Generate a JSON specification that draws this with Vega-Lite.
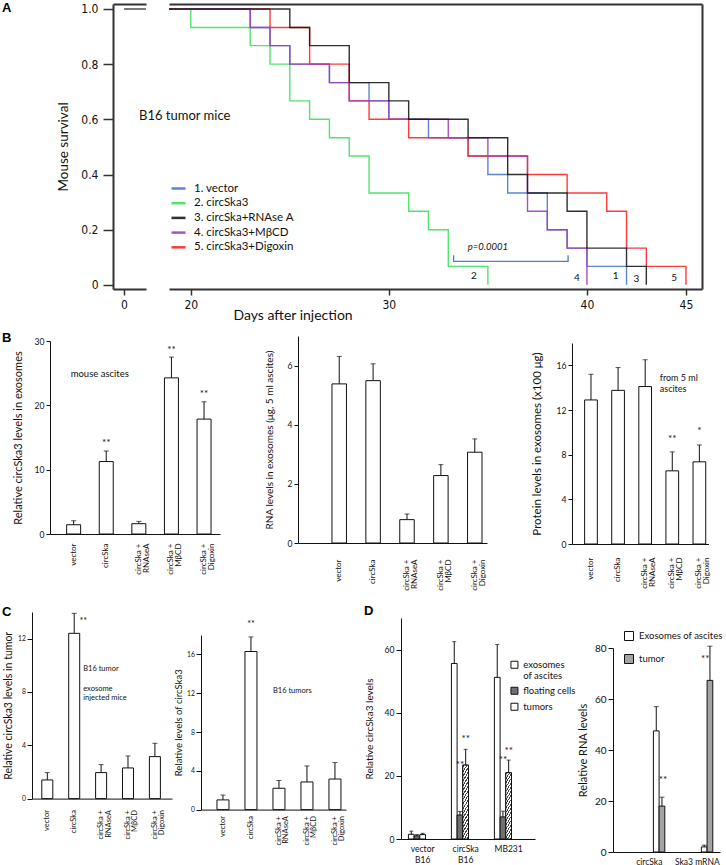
{
"$schema": "https://vega.github.io/schema/vega-lite/v6.json",
"padding": {"left": 0, "top": 1, "right": 0, "bottom": 0},
"config": {
  "view": {"stroke": null},
  "font": "Lato",
  "axis": {"grid": false, "labelFont": "Lato", "titleFont": "Lato", "titleFontWeight": "normal", "labelColor": "#111", "titleColor": "#111", "domainColor": "#111", "tickColor": "#111", "labelFlush": false, "labelOverlap": false},
  "text": {"font": "Lato", "color": "#111"},
  "title": {"font": "Liberation Sans", "fontWeight": "bold", "fontSize": 13, "color": "#000", "anchor": "start", "frame": "group", "baseline": "bottom"},
  "legend": {"labelFont": "Lato", "padding": 0, "labelColor": "#111"}
},
"datasets": {
  "surv": [
    {"grp": "2. circSka3", "day": 0, "s": 1}, {"grp": "2. circSka3", "day": 20, "s": 0.933}, {"grp": "2. circSka3", "day": 23, "s": 0.867}, {"grp": "2. circSka3", "day": 24, "s": 0.8}, {"grp": "2. circSka3", "day": 25, "s": 0.667}, {"grp": "2. circSka3", "day": 26, "s": 0.6}, {"grp": "2. circSka3", "day": 27, "s": 0.533}, {"grp": "2. circSka3", "day": 28, "s": 0.467}, {"grp": "2. circSka3", "day": 29, "s": 0.333}, {"grp": "2. circSka3", "day": 31, "s": 0.267}, {"grp": "2. circSka3", "day": 32, "s": 0.2}, {"grp": "2. circSka3", "day": 33, "s": 0.067}, {"grp": "2. circSka3", "day": 35, "s": 0},
    {"grp": "1. vector", "day": 0, "s": 1}, {"grp": "1. vector", "day": 23, "s": 0.933}, {"grp": "1. vector", "day": 24, "s": 0.867}, {"grp": "1. vector", "day": 25, "s": 0.8}, {"grp": "1. vector", "day": 27, "s": 0.733}, {"grp": "1. vector", "day": 29, "s": 0.667}, {"grp": "1. vector", "day": 30, "s": 0.6}, {"grp": "1. vector", "day": 32, "s": 0.533}, {"grp": "1. vector", "day": 34, "s": 0.467}, {"grp": "1. vector", "day": 35, "s": 0.4}, {"grp": "1. vector", "day": 36, "s": 0.333}, {"grp": "1. vector", "day": 38, "s": 0.2}, {"grp": "1. vector", "day": 39, "s": 0.133}, {"grp": "1. vector", "day": 40, "s": 0.067}, {"grp": "1. vector", "day": 42, "s": 0},
    {"grp": "5. circSka3+Digoxin", "day": 0, "s": 1}, {"grp": "5. circSka3+Digoxin", "day": 24, "s": 0.933}, {"grp": "5. circSka3+Digoxin", "day": 26, "s": 0.8}, {"grp": "5. circSka3+Digoxin", "day": 28, "s": 0.667}, {"grp": "5. circSka3+Digoxin", "day": 29, "s": 0.6}, {"grp": "5. circSka3+Digoxin", "day": 31, "s": 0.533}, {"grp": "5. circSka3+Digoxin", "day": 34, "s": 0.467}, {"grp": "5. circSka3+Digoxin", "day": 37, "s": 0.4}, {"grp": "5. circSka3+Digoxin", "day": 39, "s": 0.333}, {"grp": "5. circSka3+Digoxin", "day": 41, "s": 0.267}, {"grp": "5. circSka3+Digoxin", "day": 42, "s": 0.133}, {"grp": "5. circSka3+Digoxin", "day": 43, "s": 0.067}, {"grp": "5. circSka3+Digoxin", "day": 45, "s": 0},
    {"grp": "4. circSka3+MβCD", "day": 0, "s": 1}, {"grp": "4. circSka3+MβCD", "day": 23, "s": 0.933}, {"grp": "4. circSka3+MβCD", "day": 24, "s": 0.867}, {"grp": "4. circSka3+MβCD", "day": 25, "s": 0.8}, {"grp": "4. circSka3+MβCD", "day": 27, "s": 0.733}, {"grp": "4. circSka3+MβCD", "day": 28, "s": 0.667}, {"grp": "4. circSka3+MβCD", "day": 30, "s": 0.6}, {"grp": "4. circSka3+MβCD", "day": 33, "s": 0.533}, {"grp": "4. circSka3+MβCD", "day": 35, "s": 0.467}, {"grp": "4. circSka3+MβCD", "day": 37, "s": 0.267}, {"grp": "4. circSka3+MβCD", "day": 38, "s": 0.2}, {"grp": "4. circSka3+MβCD", "day": 39, "s": 0.133}, {"grp": "4. circSka3+MβCD", "day": 40, "s": 0},
    {"grp": "3. circSka+RNAse A", "day": 0, "s": 1}, {"grp": "3. circSka+RNAse A", "day": 25, "s": 0.933}, {"grp": "3. circSka+RNAse A", "day": 26, "s": 0.867}, {"grp": "3. circSka+RNAse A", "day": 28, "s": 0.733}, {"grp": "3. circSka+RNAse A", "day": 30, "s": 0.667}, {"grp": "3. circSka+RNAse A", "day": 31, "s": 0.6}, {"grp": "3. circSka+RNAse A", "day": 34, "s": 0.533}, {"grp": "3. circSka+RNAse A", "day": 36, "s": 0.4}, {"grp": "3. circSka+RNAse A", "day": 37, "s": 0.333}, {"grp": "3. circSka+RNAse A", "day": 39, "s": 0.267}, {"grp": "3. circSka+RNAse A", "day": 40, "s": 0.133}, {"grp": "3. circSka+RNAse A", "day": 42, "s": 0.067}, {"grp": "3. circSka+RNAse A", "day": 43, "s": 0}
  ]
},
"spacing": 0,
"resolve": {"scale": {"color": "independent", "fill": "independent"}, "legend": {"color": "independent", "fill": "independent"}},
"vconcat": [
  {
    "spacing": 1,
    "resolve": {"scale": {"color": "independent"}, "legend": {"color": "independent"}},
    "hconcat": [
      {"width": 1, "height": 1, "data": {"values": []}, "mark": "point"},
      {
        "bounds": "flush",
        "spacing": 23,
        "resolve": {"scale": {"color": "independent"}, "legend": {"color": "independent"}},
        "hconcat": [
          {
            "width": 33, "height": 285,
            "title": {"text": "A", "dx": -111, "offset": -12},
            "resolve": {"axis": {"x": "independent", "y": "independent"}},
            "layer": [
              {
                "data": {"name": "surv"},
                "mark": {"type": "line", "interpolate": "step-after", "clip": true, "color": "#7a7a7a", "strokeWidth": 1.4},
                "encoding": {
                  "x": {"field": "day", "type": "quantitative", "scale": {"domain": [-0.556, 1.111], "nice": false, "zero": false},
                        "axis": {"values": [0], "title": null, "tickSize": 6, "tickWidth": 1.5, "domainWidth": 2, "domainColor": "#333", "tickColor": "#333", "labelFont": "Liberation Sans Narrow, DejaVu Sans Condensed, sans-serif", "labelFontSize": 12, "labelPadding": 4}},
                  "y": {"field": "s", "type": "quantitative", "scale": {"domain": [-0.015, 1.018], "nice": false, "zero": false},
                        "axis": {"values": [0, 0.2, 0.4, 0.6, 0.8, 1], "labelExpr": "datum.value == 0 ? '0' : format(datum.value, '.1f')", "title": "Mouse survival", "titleFontSize": 13.5, "titlePadding": 10, "tickSize": 10, "tickWidth": 1.5, "domainWidth": 2, "domainColor": "#333", "tickColor": "#333", "labelFont": "Liberation Sans Narrow, DejaVu Sans Condensed, sans-serif", "labelFontSize": 12, "labelPadding": 5}},
                  "detail": {"field": "grp", "type": "nominal"}
                }
              },
              {
                "data": {"values": [{}]},
                "mark": {"type": "text", "text": "B16 tumor mice", "align": "left", "baseline": "middle", "fontSize": 13},
                "encoding": {
                  "x": {"datum": 0.758, "type": "quantitative", "axis": {"orient": "top", "labels": false, "ticks": false, "title": null, "domainWidth": 2, "domainColor": "#333"}},
                  "y": {"datum": 0.612, "type": "quantitative", "axis": null}
                }
              }
            ]
          },
          {
            "width": 533, "height": 285,
            "resolve": {"axis": {"x": "independent", "y": "independent"}},
            "layer": [
              {
                "data": {"name": "surv"},
                "mark": {"type": "line", "interpolate": "step-after", "clip": true, "strokeWidth": 1.4, "opacity": 0.9},
                "encoding": {
                  "x": {"field": "day", "type": "quantitative", "scale": {"domain": [18.9, 45.81], "nice": false, "zero": false},
                        "axis": {"values": [20, 30, 40, 45], "title": "Days after injection", "titleFontSize": 14, "titleX": 64, "titleY": 19.5, "titleAlign": "left", "titleBaseline": "top", "tickSize": 6, "tickWidth": 1.5, "domainWidth": 2, "domainColor": "#333", "tickColor": "#333", "labelFont": "Liberation Sans Narrow, DejaVu Sans Condensed, sans-serif", "labelFontSize": 12, "labelPadding": 4}},
                  "y": {"field": "s", "type": "quantitative", "scale": {"domain": [-0.015, 1.018], "nice": false, "zero": false}, "axis": null},
                  "color": {"field": "grp", "type": "nominal",
                            "scale": {"domain": ["1. vector", "2. circSka3", "3. circSka+RNAse A", "4. circSka3+MβCD", "5. circSka3+Digoxin"], "range": ["#4a78d0", "#3fe05c", "#1a1a1a", "#9f3fb8", "#ff2424"]},
                            "legend": {"orient": "none", "legendX": 1, "legendY": 176, "title": null, "symbolType": "stroke", "symbolSize": 196, "symbolStrokeWidth": 2.5, "labelFontSize": 11.5, "rowPadding": 0.7, "labelOffset": 7}}
                }
              },
              {
                "data": {"values": [{"t": "2", "d": 34.3, "s": 0.031}, {"t": "4", "d": 39.5, "s": 0.025}, {"t": "1", "d": 41.45, "s": 0.031}, {"t": "3", "d": 42.5, "s": 0.021}, {"t": "5", "d": 44.4, "s": 0.025}]},
                "mark": {"type": "text", "fontSize": 10, "baseline": "middle"},
                "encoding": {
                  "x": {"field": "d", "type": "quantitative", "axis": {"orient": "top", "labels": false, "ticks": false, "title": null, "domainWidth": 2, "domainColor": "#333"}},
                  "y": {"field": "s", "type": "quantitative", "axis": {"orient": "right", "labels": false, "ticks": false, "title": null, "domainWidth": 2, "domainColor": "#333"}},
                  "text": {"field": "t"}
                }
              },
              {
                "data": {"values": [{"d": 33.27, "s": 0.107, "o": 1}, {"d": 33.27, "s": 0.085, "o": 2}, {"d": 39.05, "s": 0.085, "o": 3}, {"d": 39.05, "s": 0.107, "o": 4}]},
                "mark": {"type": "line", "color": "#5577cc", "strokeWidth": 1.3},
                "encoding": {
                  "x": {"field": "d", "type": "quantitative", "axis": null},
                  "y": {"field": "s", "type": "quantitative", "axis": null},
                  "order": {"field": "o", "type": "quantitative"}
                }
              },
              {
                "data": {"values": [{}]},
                "mark": {"type": "text", "text": "p=0.0001", "fontStyle": "italic", "fontSize": 9.5, "baseline": "middle"},
                "encoding": {
                  "x": {"datum": 35.0, "type": "quantitative", "axis": null},
                  "y": {"datum": 0.137, "type": "quantitative", "axis": null}
                }
              }
            ]
          }
        ]
      }
    ]
  },
  {"width": 1, "height": 9, "data": {"values": []}, "mark": "point"},
  {
    "spacing": 1,
    "hconcat": [
      {"width": 1, "height": 1, "data": {"values": []}, "mark": "point"},
      {
        "spacing": 44,
        "hconcat": [
          {
            "spacing": 0,
            "bounds": "flush",
            "title": {"text": "B", "dx": -48, "offset": -9},
            "vconcat": [
              {"width": 1, "height": 5, "data": {"values": []}, "mark": "point"},
              {
                "width": 170, "height": 193,
                "data": {"values": [
                  {"g": "vector", "v": 1.44, "e": 2.06},
                  {"g": "circSka", "v": 11.26, "e": 12.9},
                  {"g": "circSka +|RNAseA", "v": 1.6, "e": 1.96},
                  {"g": "circSka +|MβCD", "v": 24.27, "e": 27.5},
                  {"g": "circSka +|Digoxin", "v": 17.86, "e": 20.55}
                ]},
                "encoding": {
                  "x": {"field": "g", "type": "nominal",
                        "scale": {"domain": ["vector", "circSka", "circSka +|RNAseA", "circSka +|MβCD", "circSka +|Digoxin"], "paddingInner": 0.571, "paddingOuter": 0.393, "align": 0.65},
                        "axis": {"title": null, "labelAngle": 270, "ticks": false, "labelPadding": 9, "labelFontSize": 8, "labelExpr": "split(datum.label, '|')", "labelLineHeight": 8}}
                },
                "layer": [
                  {"mark": {"type": "bar", "fill": "#ffffff", "stroke": "#111", "strokeWidth": 1},
                   "encoding": {"y": {"field": "v", "type": "quantitative", "scale": {"domain": [0, 30], "nice": false},
                     "axis": {"values": [0, 5, 10, 15, 20, 25, 30], "labelExpr": "datum.value % 10 == 0 ? datum.label : ''", "tickSize": 4, "labelPadding": 2, "labelFontSize": 8.6, "title": "Relative circSka3 levels in exosomes", "titleFontSize": 11, "titlePadding": 11}}}},
                  {"mark": {"type": "rule", "color": "#111"}, "encoding": {"y": {"field": "v", "type": "quantitative"}, "y2": {"field": "e"}}},
                  {"mark": {"type": "tick", "size": 5, "thickness": 1, "color": "#111"}, "encoding": {"y": {"field": "e", "type": "quantitative"}}},
                  {"data": {"values": [{"g": "circSka", "y": 14.4}, {"g": "circSka +|MβCD", "y": 28.9}, {"g": "circSka +|Digoxin", "y": 22.1}]},
                   "mark": {"type": "text", "text": "**", "fontSize": 10, "dy": 5, "baseline": "alphabetic", "color": "#111"},
                   "encoding": {"y": {"field": "y", "type": "quantitative"}}},
                  {"data": {"values": [{}]},
                   "mark": {"type": "text", "text": "mouse ascites", "align": "left", "baseline": "middle", "fontSize": 9.5, "dx": -3},
                   "encoding": {"x": {"datum": "vector", "type": "nominal"}, "y": {"datum": 24.8, "type": "quantitative"}}}
                ]
              }
            ]
          },
          {
            "width": 189, "height": 207,
            "data": {"values": [
              {"g": "vector", "v": 5.38, "e": 6.31},
              {"g": "circSka", "v": 5.49, "e": 6.06},
              {"g": "circSka +|RNAseA", "v": 0.79, "e": 0.98},
              {"g": "circSka +|MβCD", "v": 2.28, "e": 2.65},
              {"g": "circSka +|Digoxin", "v": 3.07, "e": 3.52}
            ]},
            "encoding": {
              "x": {"field": "g", "type": "nominal",
                    "scale": {"domain": ["vector", "circSka", "circSka +|RNAseA", "circSka +|MβCD", "circSka +|Digoxin"], "paddingInner": 0.573, "paddingOuter": 0.575, "align": 0.872},
                    "axis": {"title": null, "labelAngle": 270, "ticks": false, "labelPadding": 16, "labelFontSize": 8, "labelExpr": "split(datum.label, '|')", "labelLineHeight": 8}}
            },
            "layer": [
              {"mark": {"type": "bar", "fill": "#ffffff", "stroke": "#111", "strokeWidth": 1},
               "encoding": {"y": {"field": "v", "type": "quantitative", "scale": {"domain": [0, 7], "nice": false},
                 "axis": {"values": [0, 1, 2, 3, 4, 5, 6, 7], "labelExpr": "datum.value % 2 == 0 ? datum.label : ''", "tickSize": 4, "labelPadding": 2, "labelFontSize": 8.6, "title": "RNA  levels in exosomes (μg, 5 ml ascites)", "titleFontSize": 10, "titlePadding": 13}}}},
              {"mark": {"type": "rule", "color": "#111"}, "encoding": {"y": {"field": "v", "type": "quantitative"}, "y2": {"field": "e"}}},
              {"mark": {"type": "tick", "size": 5, "thickness": 1, "color": "#111"}, "encoding": {"y": {"field": "e", "type": "quantitative"}}}
            ]
          },
          {
            "spacing": 0,
            "bounds": "flush",
            "vconcat": [
              {"width": 1, "height": 7, "data": {"values": []}, "mark": "point"},
              {
                "width": 136.5, "height": 201,
                "data": {"values": [
                  {"g": "vector", "v": 12.9, "e": 15.2},
                  {"g": "circSka", "v": 13.76, "e": 15.8},
                  {"g": "circSka +|RNAseA", "v": 14.1, "e": 16.5},
                  {"g": "circSka +|MβCD", "v": 6.55, "e": 8.25},
                  {"g": "circSka +|Digoxin", "v": 7.36, "e": 8.87}
                ]},
                "encoding": {
                  "x": {"field": "g", "type": "nominal",
                        "scale": {"domain": ["vector", "circSka", "circSka +|RNAseA", "circSka +|MβCD", "circSka +|Digoxin"], "paddingInner": 0.531, "paddingOuter": 0.284, "align": 0.82},
                        "axis": {"title": null, "labelAngle": 270, "ticks": false, "labelPadding": 13, "labelFontSize": 8, "labelExpr": "split(datum.label, '|')", "labelLineHeight": 8}}
                },
                "layer": [
                  {"mark": {"type": "bar", "fill": "#ffffff", "stroke": "#111", "strokeWidth": 1},
                   "encoding": {"y": {"field": "v", "type": "quantitative", "scale": {"domain": [0, 18], "nice": false},
                     "axis": {"values": [0, 2, 4, 6, 8, 10, 12, 14, 16], "labelExpr": "datum.value % 4 == 0 ? datum.label : ''", "tickSize": 4, "labelPadding": 2, "labelFontSize": 8.6, "title": "Protein levels in exosomes (x100 μg)", "titleFontSize": 11.5, "titlePadding": 14}}}},
                  {"mark": {"type": "rule", "color": "#111"}, "encoding": {"y": {"field": "v", "type": "quantitative"}, "y2": {"field": "e"}}},
                  {"mark": {"type": "tick", "size": 5, "thickness": 1, "color": "#111"}, "encoding": {"y": {"field": "e", "type": "quantitative"}}},
                  {"data": {"values": [{"g": "circSka +|MβCD", "y": 9.58, "t": "**"}, {"g": "circSka +|Digoxin", "y": 10.3, "t": "*"}]},
                   "mark": {"type": "text", "fontSize": 10, "dy": 5, "baseline": "alphabetic", "color": "#111"},
                   "encoding": {"y": {"field": "y", "type": "quantitative"}, "text": {"field": "t"}}},
                  {"data": {"values": [{}]},
                   "mark": {"type": "text", "text": ["from 5 ml", "ascites"], "align": "left", "baseline": "top", "fontSize": 9, "lineHeight": 11, "dx": -12.5},
                   "encoding": {"x": {"datum": "circSka +|MβCD", "type": "nominal"}, "y": {"datum": 15.2, "type": "quantitative"}}}
                ]
              }
            ]
          }
        ]
      }
    ]
  },
  {"width": 1, "height": 14, "data": {"values": []}, "mark": "point"},
  {
    "spacing": 1,
    "resolve": {"scale": {"fill": "independent"}, "legend": {"fill": "independent"}},
    "hconcat": [
      {"width": 1, "height": 1, "data": {"values": []}, "mark": "point"},
      {
        "spacing": 1,
        "resolve": {"scale": {"fill": "independent"}, "legend": {"fill": "independent"}},
        "hconcat": [
          {
            "width": 140, "height": 186.6,
            "title": {"text": "C", "dx": -30, "offset": -7},
            "data": {"values": [
              {"g": "vector", "v": 1.4, "e": 1.95},
              {"g": "circSka", "v": 12.4, "e": 13.9},
              {"g": "circSka +|RNAseA", "v": 1.95, "e": 2.55},
              {"g": "circSka +|MβCD", "v": 2.3, "e": 3.2},
              {"g": "circSka +|Digoxin", "v": 3.15, "e": 4.15}
            ]},
            "encoding": {
              "x": {"field": "g", "type": "nominal",
                    "scale": {"domain": ["vector", "circSka", "circSka +|RNAseA", "circSka +|MβCD", "circSka +|Digoxin"], "paddingInner": 0.591, "paddingOuter": 0.398, "align": 0.458},
                    "axis": {"title": null, "labelAngle": 270, "ticks": false, "labelPadding": 11, "labelFontSize": 7.5, "labelExpr": "split(datum.label, '|')", "labelLineHeight": 7.5}}
            },
            "layer": [
              {"mark": {"type": "bar", "fill": "#ffffff", "stroke": "#111", "strokeWidth": 1},
               "encoding": {"y": {"field": "v", "type": "quantitative", "scale": {"domain": [0, 14], "nice": false},
                 "axis": {"values": [0, 2, 4, 6, 8, 10, 12, 14], "labelExpr": "datum.value % 4 == 0 ? datum.label : ''", "tickSize": 5, "labelPadding": 1.5, "labelFontSize": 6.8, "title": "Relative  circSka3 levels in tumor", "titleFontSize": 10.5, "titlePadding": 4}}}},
              {"mark": {"type": "rule", "color": "#111"}, "encoding": {"y": {"field": "v", "type": "quantitative"}, "y2": {"field": "e"}}},
              {"mark": {"type": "tick", "size": 5, "thickness": 1, "color": "#111"}, "encoding": {"y": {"field": "e", "type": "quantitative"}}},
              {"data": {"values": [{"g": "circSka", "y": 13.4}]},
               "mark": {"type": "text", "text": "**", "fontSize": 9, "dy": 4, "dx": 9, "baseline": "alphabetic", "color": "#111"},
               "encoding": {"y": {"field": "y", "type": "quantitative"}}},
              {"data": {"values": [{}]},
               "mark": {"type": "text", "text": "B16 tumor", "align": "left", "baseline": "middle", "fontSize": 7.5, "dx": 9, "color": "#111"},
               "encoding": {"x": {"datum": "circSka", "type": "nominal"}, "y": {"datum": 9.73, "type": "quantitative"}}},
              {"data": {"values": [{}]},
               "mark": {"type": "text", "text": ["exosome", "injected mice"], "align": "left", "baseline": "top", "fontSize": 7.5, "lineHeight": 9, "dx": 9, "color": "#111"},
               "encoding": {"x": {"datum": "circSka", "type": "nominal"}, "y": {"datum": 8.53, "type": "quantitative"}}}
            ]
          },
          {
            "spacing": 0,
            "bounds": "flush",
            "vconcat": [
              {"width": 1, "height": 22.4, "data": {"values": []}, "mark": "point"},
              {
                "width": 145, "height": 174.6,
                "data": {"values": [
                  {"g": "vector", "v": 1.0, "e": 1.5},
                  {"g": "circSka", "v": 16.3, "e": 17.8},
                  {"g": "circSka +|RNAseA", "v": 2.2, "e": 3.0},
                  {"g": "circSka +|MβCD", "v": 2.85, "e": 4.5},
                  {"g": "circSka +|Digoxin", "v": 3.15, "e": 4.85}
                ]},
                "encoding": {
                  "x": {"field": "g", "type": "nominal",
                        "scale": {"domain": ["vector", "circSka", "circSka +|RNAseA", "circSka +|MβCD", "circSka +|Digoxin"], "paddingInner": 0.571, "paddingOuter": 0.375, "align": 0.76},
                        "axis": {"title": null, "labelAngle": 270, "ticks": false, "labelPadding": 6, "labelFontSize": 7.5, "labelExpr": "split(datum.label, '|')", "labelLineHeight": 7.5}}
                },
                "layer": [
                  {"mark": {"type": "bar", "fill": "#ffffff", "stroke": "#111", "strokeWidth": 1},
                   "encoding": {"y": {"field": "v", "type": "quantitative", "scale": {"domain": [0, 18], "nice": false},
                     "axis": {"values": [0, 2, 4, 6, 8, 10, 12, 14, 16, 18], "labelExpr": "datum.value % 4 == 0 ? datum.label : ''", "tickSize": 5, "labelPadding": 1.5, "labelFontSize": 6.8, "title": "Relative levels of circSka3", "titleFontSize": 9.5, "titlePadding": 3}}}},
                  {"mark": {"type": "rule", "color": "#111"}, "encoding": {"y": {"field": "v", "type": "quantitative"}, "y2": {"field": "e"}}},
                  {"mark": {"type": "tick", "size": 5, "thickness": 1, "color": "#111"}, "encoding": {"y": {"field": "e", "type": "quantitative"}}},
                  {"data": {"values": [{"g": "circSka", "y": 19.2}]},
                   "mark": {"type": "text", "text": "**", "fontSize": 9, "dy": 4, "baseline": "alphabetic", "color": "#111"},
                   "encoding": {"y": {"field": "y", "type": "quantitative"}}},
                  {"data": {"values": [{}]},
                   "mark": {"type": "text", "text": "B16 tumors", "align": "left", "baseline": "middle", "fontSize": 7.5, "dx": -6, "color": "#111"},
                   "encoding": {"x": {"datum": "circSka +|RNAseA", "type": "nominal"}, "y": {"datum": 12.2, "type": "quantitative"}}}
                ]
              }
            ]
          },
          {"width": 16, "height": 1, "data": {"values": []}, "mark": "point"},
          {
            "spacing": 0,
            "bounds": "flush",
            "title": {"text": "D", "dx": -37, "offset": -6},
            "resolve": {"scale": {"fill": "independent"}, "legend": {"fill": "independent"}},
            "vconcat": [
              {"width": 1, "height": 6, "data": {"values": []}, "mark": "point"},
              {
                "width": 134, "height": 221,
                "data": {"values": [
                  {"g": "vector|B16", "s": "exosomes|of ascites", "v": 1.5, "e": 2.5},
                  {"g": "vector|B16", "s": "floating cells", "v": 1.0, "e": 1.4},
                  {"g": "vector|B16", "s": "tumors", "v": 1.4, "e": 1.8},
                  {"g": "circSka|B16", "s": "exosomes|of ascites", "v": 55.6, "e": 62.5},
                  {"g": "circSka|B16", "s": "floating cells", "v": 7.6, "e": 8.7},
                  {"g": "circSka|B16", "s": "tumors", "v": 23.4, "e": 28.4},
                  {"g": "MB231", "s": "exosomes|of ascites", "v": 51.2, "e": 61.6},
                  {"g": "MB231", "s": "floating cells", "v": 7.0, "e": 8.8},
                  {"g": "MB231", "s": "tumors", "v": 21, "e": 25}
                ]},
                "encoding": {
                  "x": {"field": "g", "type": "nominal",
                        "scale": {"domain": ["vector|B16", "circSka|B16", "MB231"], "paddingInner": 0.337, "paddingOuter": 0.227, "align": 0.38},
                        "axis": {"title": null, "labelAngle": 0, "ticks": false, "labelPadding": 5, "labelFontSize": 8.5, "labelExpr": "split(datum.label, '|')", "labelLineHeight": 11, "labelBaseline": "top"}},
                  "xOffset": {"field": "s", "type": "nominal", "scale": {"domain": ["exosomes|of ascites", "floating cells", "tumors"], "paddingInner": 0, "paddingOuter": 0}}
                },
                "layer": [
                  {"mark": {"type": "bar", "stroke": "#111", "strokeWidth": 1, "opacity": 1},
                   "encoding": {
                     "y": {"field": "v", "type": "quantitative", "scale": {"domain": [0, 70], "nice": false},
                           "axis": {"values": [0, 10, 20, 30, 40, 50, 60, 70], "labelExpr": "datum.value % 20 == 0 ? datum.label : ''", "tickSize": 5, "labelPadding": 2, "labelFontSize": 8.6, "title": "Relative  circSka3   levels", "titleFontSize": 10, "titlePadding": 10}},
                     "fill": {"field": "s", "type": "nominal",
                              "scale": {"domain": ["exosomes|of ascites", "floating cells", "tumors"], "range": ["#ffffff", "#707070", "#ffffff"]},
                              "legend": {"orient": "none", "legendX": 108.7, "legendY": 42, "title": null, "symbolType": "square", "symbolSize": 49, "symbolStrokeColor": "#111", "symbolStrokeWidth": 1, "symbolOpacity": 1, "labelFontSize": 9.5, "labelExpr": "split(datum.label, '|')", "rowPadding": 4, "labelOffset": 4,
                                         "encode": {"symbols": {"update": {"stroke": {"value": "#111"}, "strokeWidth": {"value": 1}, "opacity": {"value": 1}, "fill": {"signal": "datum.value === 'tumors' ? {gradient: 'linear', x1: 0, y1: 0, x2: 1, y2: 1, stops: [{offset: 0, color: '#ffffff'}, {offset: 0.18, color: '#ffffff'}, {offset: 0.18, color: '#444444'}, {offset: 0.3, color: '#444444'}, {offset: 0.3, color: '#ffffff'}, {offset: 0.44, color: '#ffffff'}, {offset: 0.44, color: '#444444'}, {offset: 0.56, color: '#444444'}, {offset: 0.56, color: '#ffffff'}, {offset: 0.7, color: '#ffffff'}, {offset: 0.7, color: '#444444'}, {offset: 0.82, color: '#444444'}, {offset: 0.82, color: '#ffffff'}, {offset: 1, color: '#ffffff'}]} : (datum.value === 'floating cells' ? '#707070' : '#ffffff')"}}}}}}
                   }},
                  {"transform": [{"filter": "datum.g == 'circSka|B16' && datum.s == 'tumors'"}],
                   "mark": {"type": "bar", "stroke": "#111", "strokeWidth": 1,
                            "fill": {"gradient": "linear", "x1": 0, "y1": 0, "x2": 0.1427, "y2": 1.11, "stops": [
                              {"offset": 0, "color": "#ffffff"},
                              {"offset": 0.015, "color": "#ffffff"}, {"offset": 0.015, "color": "#444444"}, {"offset": 0.037, "color": "#444444"}, {"offset": 0.037, "color": "#ffffff"},
                              {"offset": 0.0706, "color": "#ffffff"}, {"offset": 0.0706, "color": "#444444"}, {"offset": 0.0926, "color": "#444444"}, {"offset": 0.0926, "color": "#ffffff"},
                              {"offset": 0.1261, "color": "#ffffff"}, {"offset": 0.1261, "color": "#444444"}, {"offset": 0.1481, "color": "#444444"}, {"offset": 0.1481, "color": "#ffffff"},
                              {"offset": 0.1817, "color": "#ffffff"}, {"offset": 0.1817, "color": "#444444"}, {"offset": 0.2037, "color": "#444444"}, {"offset": 0.2037, "color": "#ffffff"},
                              {"offset": 0.2372, "color": "#ffffff"}, {"offset": 0.2372, "color": "#444444"}, {"offset": 0.2592, "color": "#444444"}, {"offset": 0.2592, "color": "#ffffff"},
                              {"offset": 0.2928, "color": "#ffffff"}, {"offset": 0.2928, "color": "#444444"}, {"offset": 0.3148, "color": "#444444"}, {"offset": 0.3148, "color": "#ffffff"},
                              {"offset": 0.3483, "color": "#ffffff"}, {"offset": 0.3483, "color": "#444444"}, {"offset": 0.3703, "color": "#444444"}, {"offset": 0.3703, "color": "#ffffff"},
                              {"offset": 0.4039, "color": "#ffffff"}, {"offset": 0.4039, "color": "#444444"}, {"offset": 0.4259, "color": "#444444"}, {"offset": 0.4259, "color": "#ffffff"},
                              {"offset": 0.4594, "color": "#ffffff"}, {"offset": 0.4594, "color": "#444444"}, {"offset": 0.4814, "color": "#444444"}, {"offset": 0.4814, "color": "#ffffff"},
                              {"offset": 0.515, "color": "#ffffff"}, {"offset": 0.515, "color": "#444444"}, {"offset": 0.537, "color": "#444444"}, {"offset": 0.537, "color": "#ffffff"},
                              {"offset": 0.5706, "color": "#ffffff"}, {"offset": 0.5706, "color": "#444444"}, {"offset": 0.5926, "color": "#444444"}, {"offset": 0.5926, "color": "#ffffff"},
                              {"offset": 0.6261, "color": "#ffffff"}, {"offset": 0.6261, "color": "#444444"}, {"offset": 0.6481, "color": "#444444"}, {"offset": 0.6481, "color": "#ffffff"},
                              {"offset": 0.6817, "color": "#ffffff"}, {"offset": 0.6817, "color": "#444444"}, {"offset": 0.7037, "color": "#444444"}, {"offset": 0.7037, "color": "#ffffff"},
                              {"offset": 0.7372, "color": "#ffffff"}, {"offset": 0.7372, "color": "#444444"}, {"offset": 0.7592, "color": "#444444"}, {"offset": 0.7592, "color": "#ffffff"},
                              {"offset": 0.7928, "color": "#ffffff"}, {"offset": 0.7928, "color": "#444444"}, {"offset": 0.8148, "color": "#444444"}, {"offset": 0.8148, "color": "#ffffff"},
                              {"offset": 0.8483, "color": "#ffffff"}, {"offset": 0.8483, "color": "#444444"}, {"offset": 0.8703, "color": "#444444"}, {"offset": 0.8703, "color": "#ffffff"},
                              {"offset": 0.9039, "color": "#ffffff"}, {"offset": 0.9039, "color": "#444444"}, {"offset": 0.9259, "color": "#444444"}, {"offset": 0.9259, "color": "#ffffff"},
                              {"offset": 0.9594, "color": "#ffffff"}, {"offset": 0.9594, "color": "#444444"}, {"offset": 0.9814, "color": "#444444"}, {"offset": 0.9814, "color": "#ffffff"},
                              {"offset": 1, "color": "#ffffff"}]}},
                   "encoding": {"y": {"field": "v", "type": "quantitative"}}},
                  {"transform": [{"filter": "datum.g == 'MB231' && datum.s == 'tumors'"}],
                   "mark": {"type": "bar", "stroke": "#111", "strokeWidth": 1,
                            "fill": {"gradient": "linear", "x1": 0, "y1": 0, "x2": 0.1605, "y2": 1.1205, "stops": [
                              {"offset": 0, "color": "#ffffff"},
                              {"offset": 0.015, "color": "#ffffff"}, {"offset": 0.015, "color": "#444444"}, {"offset": 0.037, "color": "#444444"}, {"offset": 0.037, "color": "#ffffff"},
                              {"offset": 0.0706, "color": "#ffffff"}, {"offset": 0.0706, "color": "#444444"}, {"offset": 0.0926, "color": "#444444"}, {"offset": 0.0926, "color": "#ffffff"},
                              {"offset": 0.1261, "color": "#ffffff"}, {"offset": 0.1261, "color": "#444444"}, {"offset": 0.1481, "color": "#444444"}, {"offset": 0.1481, "color": "#ffffff"},
                              {"offset": 0.1817, "color": "#ffffff"}, {"offset": 0.1817, "color": "#444444"}, {"offset": 0.2037, "color": "#444444"}, {"offset": 0.2037, "color": "#ffffff"},
                              {"offset": 0.2372, "color": "#ffffff"}, {"offset": 0.2372, "color": "#444444"}, {"offset": 0.2592, "color": "#444444"}, {"offset": 0.2592, "color": "#ffffff"},
                              {"offset": 0.2928, "color": "#ffffff"}, {"offset": 0.2928, "color": "#444444"}, {"offset": 0.3148, "color": "#444444"}, {"offset": 0.3148, "color": "#ffffff"},
                              {"offset": 0.3483, "color": "#ffffff"}, {"offset": 0.3483, "color": "#444444"}, {"offset": 0.3703, "color": "#444444"}, {"offset": 0.3703, "color": "#ffffff"},
                              {"offset": 0.4039, "color": "#ffffff"}, {"offset": 0.4039, "color": "#444444"}, {"offset": 0.4259, "color": "#444444"}, {"offset": 0.4259, "color": "#ffffff"},
                              {"offset": 0.4594, "color": "#ffffff"}, {"offset": 0.4594, "color": "#444444"}, {"offset": 0.4814, "color": "#444444"}, {"offset": 0.4814, "color": "#ffffff"},
                              {"offset": 0.515, "color": "#ffffff"}, {"offset": 0.515, "color": "#444444"}, {"offset": 0.537, "color": "#444444"}, {"offset": 0.537, "color": "#ffffff"},
                              {"offset": 0.5706, "color": "#ffffff"}, {"offset": 0.5706, "color": "#444444"}, {"offset": 0.5926, "color": "#444444"}, {"offset": 0.5926, "color": "#ffffff"},
                              {"offset": 0.6261, "color": "#ffffff"}, {"offset": 0.6261, "color": "#444444"}, {"offset": 0.6481, "color": "#444444"}, {"offset": 0.6481, "color": "#ffffff"},
                              {"offset": 0.6817, "color": "#ffffff"}, {"offset": 0.6817, "color": "#444444"}, {"offset": 0.7037, "color": "#444444"}, {"offset": 0.7037, "color": "#ffffff"},
                              {"offset": 0.7372, "color": "#ffffff"}, {"offset": 0.7372, "color": "#444444"}, {"offset": 0.7592, "color": "#444444"}, {"offset": 0.7592, "color": "#ffffff"},
                              {"offset": 0.7928, "color": "#ffffff"}, {"offset": 0.7928, "color": "#444444"}, {"offset": 0.8148, "color": "#444444"}, {"offset": 0.8148, "color": "#ffffff"},
                              {"offset": 0.8483, "color": "#ffffff"}, {"offset": 0.8483, "color": "#444444"}, {"offset": 0.8703, "color": "#444444"}, {"offset": 0.8703, "color": "#ffffff"},
                              {"offset": 0.9039, "color": "#ffffff"}, {"offset": 0.9039, "color": "#444444"}, {"offset": 0.9259, "color": "#444444"}, {"offset": 0.9259, "color": "#ffffff"},
                              {"offset": 0.9594, "color": "#ffffff"}, {"offset": 0.9594, "color": "#444444"}, {"offset": 0.9814, "color": "#444444"}, {"offset": 0.9814, "color": "#ffffff"},
                              {"offset": 1, "color": "#ffffff"}]}},
                   "encoding": {"y": {"field": "v", "type": "quantitative"}}},
                  {"mark": {"type": "rule", "color": "#111"}, "encoding": {"y": {"field": "v", "type": "quantitative"}, "y2": {"field": "e"}}},
                  {"mark": {"type": "tick", "size": 4, "thickness": 1, "color": "#111"}, "encoding": {"y": {"field": "e", "type": "quantitative"}}},
                  {"data": {"values": [{"g": "circSka|B16", "s": "floating cells", "y": 24.0}, {"g": "circSka|B16", "s": "tumors", "y": 32.2}, {"g": "MB231", "s": "floating cells", "y": 25.6}, {"g": "MB231", "s": "tumors", "y": 28.4}]},
                   "mark": {"type": "text", "text": "**", "fontSize": 10, "dy": 5, "baseline": "alphabetic", "color": "#111"},
                   "encoding": {"y": {"field": "y", "type": "quantitative"}}}
                ]
              }
            ]
          },
          {
            "spacing": 0,
            "bounds": "flush",
            "resolve": {"scale": {"fill": "independent"}, "legend": {"fill": "independent"}},
            "vconcat": [
              {"width": 1, "height": 35.7, "data": {"values": []}, "mark": "point"},
              {
                "width": 107, "height": 204,
                "data": {"values": [
                  {"g": "circSka", "s": "Exosomes of ascites", "v": 47.5, "e": 57},
                  {"g": "circSka", "s": "tumor", "v": 18, "e": 21.5},
                  {"g": "Ska3 mRNA", "s": "Exosomes of ascites", "v": 2.0, "e": 2.7},
                  {"g": "Ska3 mRNA", "s": "tumor", "v": 67.3, "e": 80.7}
                ]},
                "encoding": {
                  "x": {"field": "g", "type": "nominal",
                        "scale": {"domain": ["circSka", "Ska3 mRNA"], "paddingInner": 0.458, "paddingOuter": 0.344, "align": 0.706},
                        "axis": {"title": null, "labelAngle": 0, "ticks": false, "labelPadding": 5, "labelFontSize": 8.5, "labelBaseline": "top"}},
                  "xOffset": {"field": "s", "type": "nominal", "scale": {"domain": ["Exosomes of ascites", "tumor"], "paddingInner": 0, "paddingOuter": 0}}
                },
                "layer": [
                  {"mark": {"type": "bar", "stroke": "#111", "strokeWidth": 1, "opacity": 1},
                   "encoding": {
                     "y": {"field": "v", "type": "quantitative", "scale": {"domain": [0, 80], "nice": false},
                           "axis": {"values": [0, 20, 40, 60, 80], "tickSize": 5, "labelPadding": 2, "labelFontSize": 10, "title": "Relative  RNA   levels", "titleFontSize": 11, "titlePadding": 6}},
                     "fill": {"field": "s", "type": "nominal",
                              "scale": {"domain": ["Exosomes of ascites", "tumor"], "range": ["#ffffff", "#a3a3a3"]},
                              "legend": {"orient": "none", "legendX": 11, "legendY": -17, "title": null, "symbolType": "square", "symbolSize": 81, "symbolStrokeColor": "#111", "symbolStrokeWidth": 1, "symbolOpacity": 1, "labelFontSize": 9.5, "rowPadding": 9, "labelOffset": 5}}
                   }},
                  {"mark": {"type": "rule", "color": "#111"}, "encoding": {"y": {"field": "v", "type": "quantitative"}, "y2": {"field": "e"}}},
                  {"mark": {"type": "tick", "size": 5, "thickness": 1, "color": "#111"}, "encoding": {"y": {"field": "e", "type": "quantitative"}}},
                  {"data": {"values": [{"g": "circSka", "s": "tumor", "y": 29}, {"g": "Ska3 mRNA", "s": "Exosomes of ascites", "y": 76.5}]},
                   "mark": {"type": "text", "text": "**", "fontSize": 10, "dy": 5, "dx": 1, "baseline": "alphabetic", "color": "#111"},
                   "encoding": {"y": {"field": "y", "type": "quantitative"}}}
                ]
              }
            ]
          }
        ]
      }
    ]
  }
]
}
